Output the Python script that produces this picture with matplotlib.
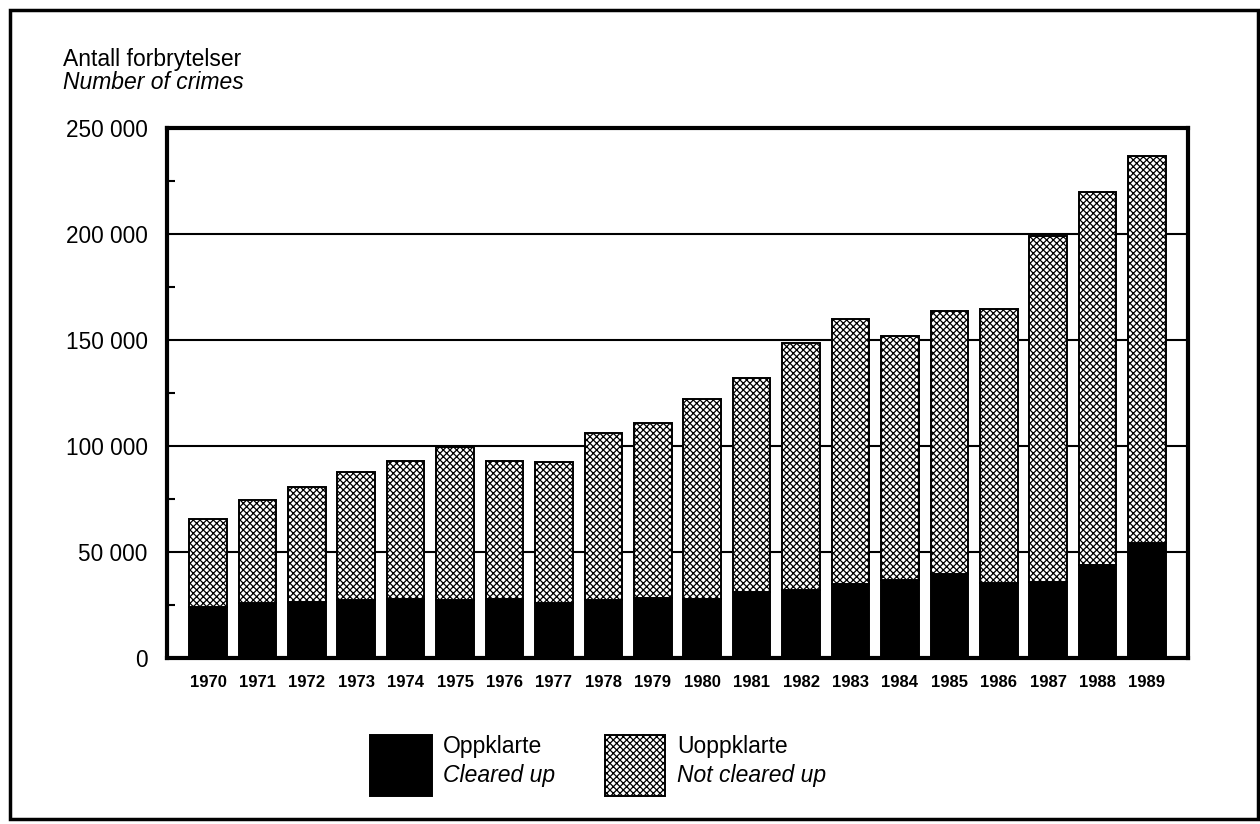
import matplotlib
matplotlib.use("Agg")
import matplotlib.pyplot as plt
from matplotlib.patches import Rectangle
from matplotlib.ticker import MultipleLocator, FuncFormatter

plt.rcParams['font.family'] = ['Liberation Sans', 'DejaVu Sans']
plt.rcParams['hatch.linewidth'] = 0.9

years = [str(y) for y in range(1970, 1990)]
cleared = [23900, 26100, 26600, 27200, 27700, 27400, 27800, 25800, 27400, 28400,
           27700, 31000, 32100, 35000, 36800, 39600, 35200, 35700, 43900, 54100]
total = [65700, 74500, 80800, 87900, 92800, 99700, 92800, 92500, 106300, 111000,
         122000, 132000, 148500, 159800, 151900, 163800, 164600, 199100, 220000, 236800]
not_cleared = [t - c for t, c in zip(total, cleared)]

yticks = [0, 50000, 100000, 150000, 200000, 250000]

W, H = 1260, 824
fig = plt.figure(figsize=(W / 100, H / 100), dpi=100)
ax = fig.add_axes([167 / W, 1 - 658 / H, (1188 - 167) / W, (658 - 128) / H])

HATCH = 'xxxxx'
x = list(range(len(years)))
bw = 0.76
ax.bar(x, cleared, width=bw, color='black', edgecolor='black', linewidth=1.4, zorder=3)
ax.bar(x, not_cleared, bottom=cleared, width=bw, color='white', edgecolor='black',
       hatch=HATCH, linewidth=1.4, zorder=3)

ax.set_xlim(-0.83, len(years) - 1 + 0.83)
ax.set_ylim(0, 250000)
ax.set_axisbelow(True)
ax.yaxis.grid(True, color='black', linewidth=1.5, zorder=0)
ax.set_yticks(yticks)
ax.yaxis.set_minor_locator(MultipleLocator(25000))
ax.yaxis.set_major_formatter(FuncFormatter(lambda v, p: f"{int(v):,}".replace(",", " ")))
ax.tick_params(axis='y', which='major', length=0, pad=14, labelsize=16.3)
ax.tick_params(axis='y', which='minor', direction='in', length=6, width=1.5)
ax.set_xticks(x)
ax.set_xticklabels(years, fontweight='bold', fontsize=12)
ax.tick_params(axis='x', length=0, pad=12)
for s in ax.spines.values():
    s.set_linewidth(3)

FS = 16.5
fig.text(63 / W, 1 - 66 / H, "Antall forbrytelser", fontsize=FS, va='baseline', ha='left')
fig.text(63 / W, 1 - 89 / H, "Number of crimes", fontsize=FS, va='baseline', ha='left',
         style='italic')

# legend
fig.patches.append(Rectangle((370 / W, 1 - 796 / H), 62 / W, 61 / H, transform=fig.transFigure,
                             facecolor='black', edgecolor='black', linewidth=1.4))
fig.patches.append(Rectangle((605 / W, 1 - 796 / H), 60 / W, 61 / H, transform=fig.transFigure,
                             facecolor='white', edgecolor='black', hatch=HATCH, linewidth=1.4))
fig.text(443 / W, 1 - 753 / H, "Oppklarte", fontsize=FS, va='baseline', ha='left')
fig.text(443 / W, 1 - 782 / H, "Cleared up", fontsize=FS, va='baseline', ha='left', style='italic')
fig.text(677 / W, 1 - 753 / H, "Uoppklarte", fontsize=FS, va='baseline', ha='left')
fig.text(677 / W, 1 - 782 / H, "Not cleared up", fontsize=FS, va='baseline', ha='left',
         style='italic')

# outer frame
fig.patches.append(Rectangle((10 / W, 1 - 819 / H), 1248 / W, 809 / H, transform=fig.transFigure,
                             fill=False, edgecolor='black', linewidth=2.5))

fig.savefig("out.png", dpi=100)
